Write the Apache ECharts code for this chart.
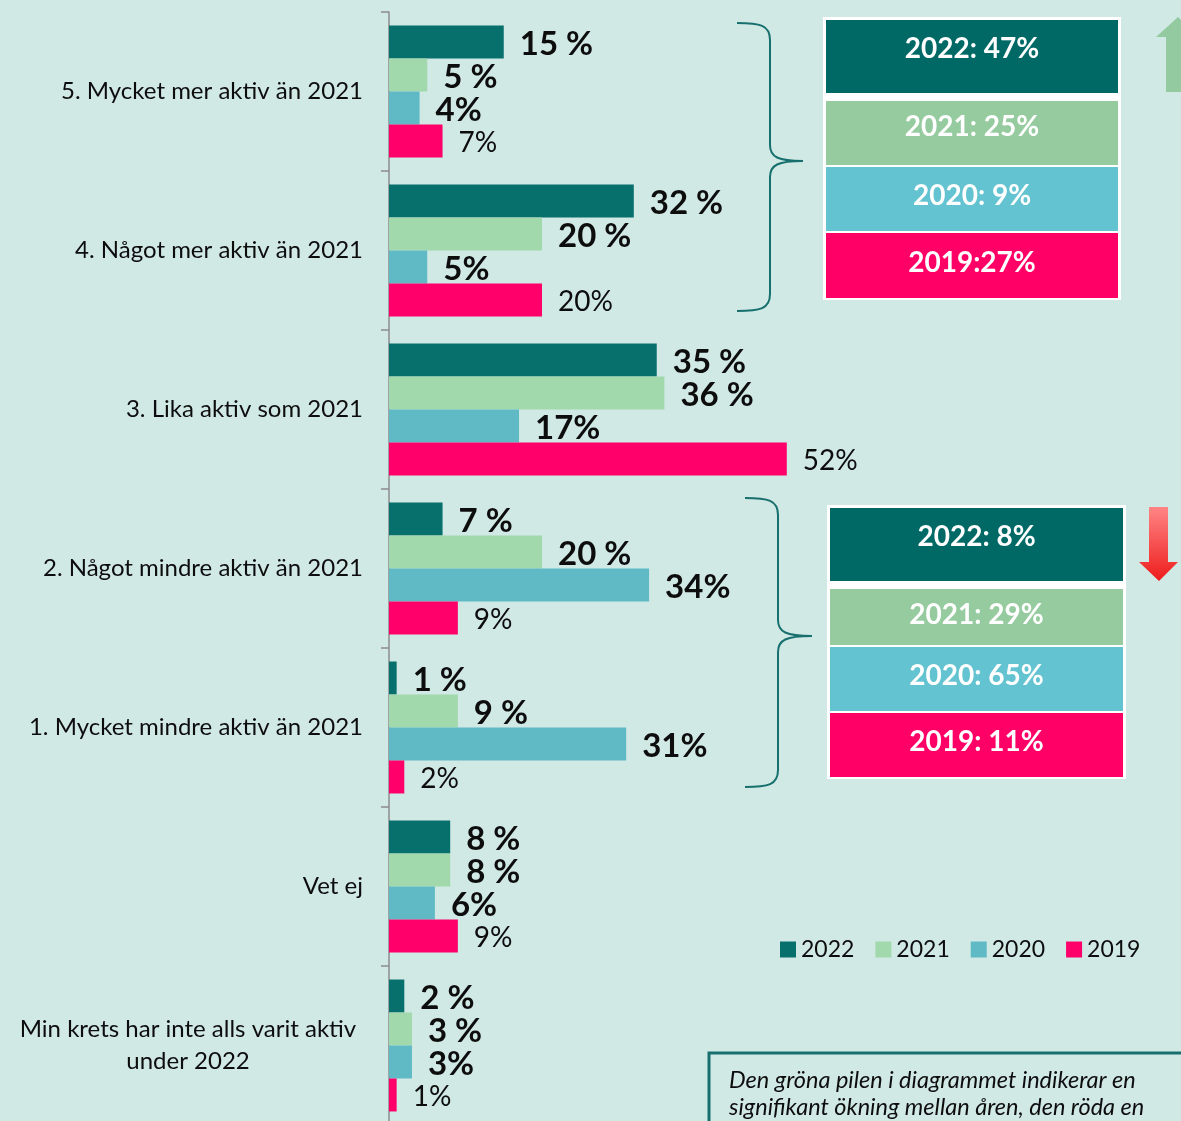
<!DOCTYPE html>
<html>
<head>
<meta charset="utf-8">
<script src="https://cdn.jsdelivr.net/npm/echarts@6/dist/echarts.min.js"></script>
<style>
html,body{margin:0;padding:0;background:#d1e9e5;}
#c{width:1181px;height:1121px;}
</style>
</head>
<body>
<div id="c"></div>
<script>
const categories = [
  "5. Mycket mer aktiv än 2021",
  "4. Något mer aktiv än 2021",
  "3. Lika aktiv som 2021",
  "2. Något mindre aktiv än 2021",
  "1. Mycket mindre aktiv än 2021",
  "Vet ej",
  "Min krets har inte alls varit aktiv\nunder 2022"
];
const seriesNames = ["2022", "2021", "2020", "2019"];
const values2022 = [15, 32, 35, 7, 1, 8, 2];
const values2021 = [5, 20, 36, 20, 9, 8, 3];
const values2020 = [4, 5, 17, 34, 31, 6, 3];
const values2019 = [7, 20, 52, 9, 2, 9, 1];
const labels2022 = ["15 %", "32 %", "35 %", "7 %", "1 %", "8 %", "2 %"];
const labels2021 = ["5 %", "20 %", "36 %", "20 %", "9 %", "8 %", "3 %"];
const labels2020 = ["4%", "5%", "17%", "34%", "31%", "6%", "3%"];
const labels2019 = ["7%", "20%", "52%", "9%", "2%", "9%", "1%"];
const increaseBox = ["2022: 47%", "2021: 25%", "2020: 9%", "2019:27%"];
const decreaseBox = ["2022: 8%", "2021: 29%", "2020: 65%", "2019: 11%"];
const noteLines = [
  "Den gröna pilen i diagrammet indikerar en",
  "signifikant ökning mellan åren, den röda en"
];

const FONT = "Lato";
const barColors = ["#076f6c", "#a1d8ac", "#5fbac6", "#ff006a"];
const boxColors = ["#006966", "#96cba0", "#63c3d0", "#ff0066"];
const BRACE = "#17706d";

function mkSeries(name, vals, labs, color, bold) {
  return {
    name: name,
    type: "bar",
    data: vals,
    barGap: "0%",
    barCategoryGap: "17%",
    itemStyle: { color: color },
    label: {
      show: true,
      position: "right",
      distance: 16,
      offset: [0, 2],
      fontFamily: FONT,
      fontSize: bold ? 33 : 28,
      fontWeight: bold ? "bold" : "normal",
      color: "#0d0d0d",
      formatter: function (p) { return labs[p.dataIndex]; }
    }
  };
}

const graphics = [];
function addBox(outer, rows, texts) {
  graphics.push({
    type: "rect", z: 10,
    shape: { x: outer[0], y: outer[1], width: outer[2], height: outer[3] },
    style: { fill: "#ffffff" }
  });
  rows.forEach(function (r, i) {
    graphics.push({
      type: "rect", z: 11,
      shape: { x: outer[0] + 3, y: r[0], width: outer[2] - 6, height: r[1] - r[0] },
      style: { fill: boxColors[i] }
    });
    graphics.push({
      type: "text", z: 12,
      x: outer[0] + outer[2] / 2, y: r[2],
      style: {
        text: texts[i], fill: "#ffffff", fontFamily: FONT, fontSize: 28,
        fontWeight: "bold", align: "center", verticalAlign: "middle"
      }
    });
  });
}
addBox([823, 17, 298, 283], [[20, 93, 49], [101, 165, 127], [167, 231, 196], [233, 298, 263]], increaseBox);
addBox([827, 505, 299, 274], [[508, 581, 537], [589, 645, 615], [647, 711, 676], [713, 777, 742]], decreaseBox);

// braces built from curves and lines
function bez(x1, y1, c1x, c1y, c2x, c2y, x2, y2) {
  graphics.push({
    type: "bezierCurve", z: 10,
    shape: { x1: x1, y1: y1, cpx1: c1x, cpy1: c1y, cpx2: c2x, cpy2: c2y, x2: x2, y2: y2 },
    style: { fill: null, stroke: BRACE, lineWidth: 2 }
  });
}
function seg(x1, y1, x2, y2) {
  graphics.push({
    type: "line", z: 10,
    shape: { x1: x1, y1: y1, x2: x2, y2: y2 },
    style: { stroke: BRACE, lineWidth: 2 }
  });
}
function brace(tipX, spineX, pointX, top, mid, bottom) {
  bez(tipX, top, spineX - 10, top, spineX, top + 2, spineX, top + 17);
  seg(spineX, top + 17, spineX, mid - 16);
  bez(spineX, mid - 16, spineX, mid - 4, spineX + 8, mid, pointX, mid);
  bez(pointX, mid, spineX + 8, mid, spineX, mid + 4, spineX, mid + 16);
  seg(spineX, mid + 16, spineX, bottom - 17);
  bez(spineX, bottom - 17, spineX, bottom - 2, spineX - 10, bottom, tipX, bottom);
}
brace(737, 770, 803, 23, 161, 311);
brace(745, 778, 812, 498, 636, 787);

// arrows
graphics.push({
  type: "polygon", z: 10,
  shape: { points: [[1178, 17], [1200, 37], [1190, 37], [1190, 92], [1166, 92], [1166, 37], [1156, 37]] },
  style: { fill: "#94caa0" }
});
graphics.push({
  type: "polygon", z: 10,
  shape: { points: [[1149, 507], [1168, 507], [1168, 562], [1178, 562], [1159, 581], [1139, 562], [1149, 562]] },
  style: {
    fill: {
      type: "linear", x: 0, y: 0, x2: 0, y2: 1,
      colorStops: [{ offset: 0, color: "#ff8585" }, { offset: 1, color: "#ee1c1c" }]
    }
  }
});

// note box
graphics.push({
  type: "rect", z: 10,
  shape: { x: 709, y: 1053, width: 500, height: 120 },
  style: { fill: null, stroke: BRACE, lineWidth: 3 }
});
noteLines.forEach(function (t, i) {
  graphics.push({
    type: "text", z: 11,
    x: 729, y: 1080 + i * 27,
    style: {
      text: t, fill: "#0d0d0d", fontFamily: FONT, fontSize: 23.5,
      fontStyle: "italic", verticalAlign: "middle", align: "left"
    }
  });
});

const chart = echarts.init(document.getElementById("c"), null, { renderer: "canvas" });
chart.setOption({
  backgroundColor: "#d1e9e5",
  animation: false,
  textStyle: { fontFamily: FONT },
  grid: { left: 389, top: 12, width: 765, height: 1113, containLabel: false, outerBoundsMode: "none" },
  legend: {
    data: seriesNames,
    left: 775, top: 933,
    icon: "rect",
    itemWidth: 16, itemHeight: 16,
    itemGap: 21,
    textStyle: { fontFamily: FONT, fontSize: 23, color: "#0d0d0d" }
  },
  xAxis: { type: "value", min: 0, max: 100, show: false },
  yAxis: {
    type: "category",
    inverse: true,
    data: categories,
    axisLine: { show: true, lineStyle: { color: "#8c8c8c", width: 1.5 } },
    axisTick: { show: true, length: 8, lineStyle: { color: "#8c8c8c", width: 1.5 } },
    axisLabel: {
      margin: 26,
      fontFamily: FONT,
      fontSize: 24,
      color: "#0d0d0d",
      formatter: function (v) {
        if (v.indexOf("\n") >= 0) {
          return v.split("\n").map(function (s) { return "{c|" + s + "}"; }).join("\n");
        }
        return v;
      },
      rich: { c: { fontFamily: FONT, fontSize: 24, color: "#0d0d0d", width: 350, align: "center", lineHeight: 32 } }
    },
    splitLine: { show: false }
  },
  series: [
    mkSeries(seriesNames[0], values2022, labels2022, barColors[0], true),
    mkSeries(seriesNames[1], values2021, labels2021, barColors[1], true),
    mkSeries(seriesNames[2], values2020, labels2020, barColors[2], true),
    mkSeries(seriesNames[3], values2019, labels2019, barColors[3], false)
  ],
  graphic: graphics
});
</script>
</body>
</html>
